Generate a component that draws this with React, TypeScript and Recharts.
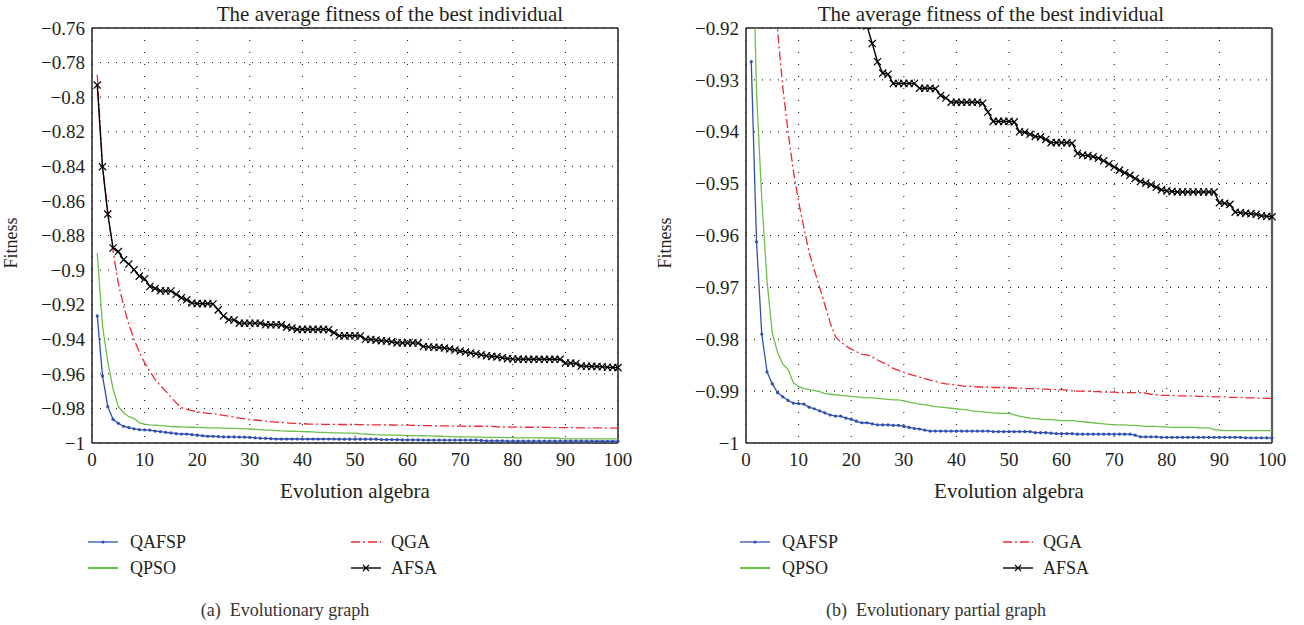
import React from 'react';
import { LineChart, Line, XAxis, YAxis, CartesianGrid, ReferenceLine } from 'recharts';

// best-individual fitness per generation (generations 1..100)
const qafsp = [
  -0.9265, -0.9612, -0.979, -0.9863, -0.9886, -0.9903, -0.9911, -0.9918, -0.9923, -0.9924,
  -0.9925, -0.9931, -0.9934, -0.9938, -0.9942, -0.9946, -0.9948, -0.9948, -0.9952, -0.9954,
  -0.9958, -0.9961, -0.9961, -0.9963, -0.9965, -0.9965, -0.9965, -0.9966, -0.9966, -0.9968,
  -0.997, -0.9972, -0.9973, -0.9975, -0.9977, -0.9977, -0.9977, -0.9977, -0.9977, -0.9977,
  -0.9977, -0.9977, -0.9977, -0.9977, -0.9977, -0.9977, -0.9978, -0.9978, -0.9978, -0.9978,
  -0.9978, -0.9978, -0.9978, -0.9978, -0.998, -0.998, -0.998, -0.9981, -0.9982, -0.9982,
  -0.9982, -0.9982, -0.9983, -0.9983, -0.9983, -0.9983, -0.9983, -0.9983, -0.9983, -0.9983,
  -0.9983, -0.9983, -0.9983, -0.9985, -0.9988, -0.9988, -0.9988, -0.9988, -0.9989, -0.9989,
  -0.9989, -0.9989, -0.9989, -0.9989, -0.9989, -0.9989, -0.9989, -0.9989, -0.9989, -0.9989,
  -0.9989, -0.9989, -0.9989, -0.9989, -0.999, -0.999, -0.999, -0.999, -0.999, -0.999,
];

const qpso = [
  -0.8903, -0.9324, -0.953, -0.9688, -0.9788, -0.9825, -0.9848, -0.9858, -0.9884, -0.9891,
  -0.9895, -0.9897, -0.9899, -0.9901, -0.9905, -0.9906, -0.9907, -0.9908, -0.9909, -0.991,
  -0.9911, -0.9912, -0.9913, -0.9913, -0.9914, -0.9915, -0.9916, -0.9917, -0.9917, -0.9919,
  -0.9921, -0.9923, -0.9925, -0.9926, -0.9928, -0.993, -0.9931, -0.9932, -0.9933, -0.9934,
  -0.9935, -0.9936, -0.9938, -0.9939, -0.994, -0.9941, -0.9942, -0.9943, -0.9943, -0.9943,
  -0.9946, -0.9948, -0.995, -0.9952, -0.9953, -0.9954, -0.9955, -0.9955, -0.9956, -0.9957,
  -0.9957, -0.9957, -0.9958, -0.9959, -0.996, -0.9961, -0.9962, -0.9963, -0.9964, -0.9965,
  -0.9965, -0.9965, -0.9966, -0.9966, -0.9967, -0.9968, -0.9968, -0.9968, -0.9969, -0.9969,
  -0.997, -0.997, -0.997, -0.997, -0.997, -0.9971, -0.9971, -0.9971, -0.9974, -0.9975,
  -0.9976, -0.9976, -0.9976, -0.9976, -0.9976, -0.9976, -0.9976, -0.9976, -0.9976, -0.9976,
];

const qga = [
  -0.787, -0.84, -0.866, -0.889, -0.9077, -0.9205, -0.9315, -0.94, -0.9475, -0.9535,
  -0.9585, -0.9632, -0.9667, -0.97, -0.9734, -0.9768, -0.9795, -0.9805, -0.9813, -0.9819,
  -0.9824, -0.9829, -0.983, -0.9834, -0.984, -0.9845, -0.985, -0.9856, -0.986, -0.9864,
  -0.9867, -0.987, -0.9873, -0.9876, -0.9879, -0.9881, -0.9884, -0.9886, -0.9887, -0.9888,
  -0.989, -0.9891, -0.9891, -0.9892, -0.9892, -0.9892, -0.9893, -0.9893, -0.9893, -0.9893,
  -0.9894, -0.9894, -0.9895, -0.9895, -0.9895, -0.9896, -0.9896, -0.9897, -0.9897, -0.9897,
  -0.9898, -0.9899, -0.99, -0.99, -0.99, -0.9901, -0.9901, -0.9902, -0.9902, -0.9902,
  -0.9903, -0.9903, -0.9903, -0.9903, -0.9903, -0.9904, -0.9906, -0.9907, -0.9908, -0.9908,
  -0.9908, -0.9909, -0.9909, -0.9909, -0.9909, -0.991, -0.991, -0.991, -0.9911, -0.9911,
  -0.9911, -0.9912, -0.9912, -0.9912, -0.9913, -0.9913, -0.9913, -0.9914, -0.9914, -0.9914,
];

const afsa = [
  -0.793, -0.8402, -0.8676, -0.8872, -0.8893, -0.894, -0.8965, -0.8998, -0.9035, -0.905,
  -0.9095, -0.9106, -0.912, -0.9121, -0.9121, -0.914, -0.916, -0.9172, -0.919, -0.9194,
  -0.9194, -0.9194, -0.9196, -0.923, -0.9265, -0.9287, -0.9289, -0.9307, -0.9307, -0.9307,
  -0.9307, -0.9307, -0.9316, -0.9316, -0.9316, -0.9317, -0.933, -0.9335, -0.9343, -0.9343,
  -0.9343, -0.9343, -0.9343, -0.9343, -0.9345, -0.9362, -0.938, -0.938, -0.938, -0.938,
  -0.9381, -0.94, -0.9401, -0.9405, -0.9409, -0.941, -0.9415, -0.9421, -0.9421, -0.9421,
  -0.9421, -0.9422, -0.9442, -0.9445, -0.9446, -0.9448, -0.9451, -0.9456, -0.9462, -0.9468,
  -0.9474, -0.9479, -0.9484, -0.949, -0.9496, -0.9499, -0.9502, -0.9507, -0.9512, -0.9514,
  -0.9515, -0.9516, -0.9516, -0.9516, -0.9516, -0.9516, -0.9516, -0.9516, -0.9516, -0.9537,
  -0.9538, -0.954, -0.9555, -0.9556, -0.9557, -0.9558, -0.9559, -0.9562, -0.9563, -0.9564,
];

const xTicks = [0, 10, 20, 30, 40, 50, 60, 70, 80, 90, 100];
const fullTicks = [-1, -0.98, -0.96, -0.94, -0.92, -0.9, -0.88, -0.86, -0.84, -0.82, -0.8, -0.78, -0.76];
const partTicks = [-1, -0.99, -0.98, -0.97, -0.96, -0.95, -0.94, -0.93, -0.92];

const rows = qafsp.map((v, i) => ({
  generation: i + 1,
  QAFSP: v,
  QPSO: qpso[i],
  QGA: qga[i],
  AFSA: afsa[i],
}));

const SERIF = 'Liberation Serif, DejaVu Serif, serif';
const INK = '#231f20';
const BLUE = '#2f4fae';
const GREEN = '#6cc04a';
const RED = '#ee2a2e';
const DASHDOT = '9 3 2 3';
const TICK = { fontSize: 19, fill: INK, fontFamily: SERIF, style: { fontFamily: SERIF } };

const fmt = (v: number) => String(v).replace('-', '\u2212');

const crossDot = (p: any) => {
  const { cx, cy, index } = p;
  if (cx == null || cy == null) return <g key={`c${index}`} />;
  const s = 3.6;
  return (
    <path
      key={`c${index}`}
      d={`M${cx - s},${cy - s}L${cx + s},${cy + s}M${cx - s},${cy + s}L${cx + s},${cy - s}`}
      stroke="#000"
      strokeWidth={1.2}
      fill="none"
    />
  );
};

const smallDot = (p: any) => {
  const { cx, cy, index } = p;
  if (cx == null || cy == null) return <g key={`d${index}`} />;
  return <circle key={`d${index}`} cx={cx} cy={cy} r={1.6} fill={BLUE} />;
};

type PanelProps = {
  left: number;
  width: number;
  axisWidth: number;
  domain: [number, number];
  ticks: number[];
  clip: boolean;
  edge: string;
};

const Panel = ({ left, width, axisWidth, domain, ticks, clip, edge }: PanelProps) => (
  <div style={{ position: 'absolute', left, top: 0 }}>
    <LineChart width={width} height={470} data={rows} margin={{ top: 28, right: 32, left: 0, bottom: 0 }}>
      <CartesianGrid vertical={false} stroke="#000" strokeDasharray="1 7" />
      <CartesianGrid horizontal={false} stroke="#000" strokeDasharray="1 11" />
      <XAxis
        type="number"
        dataKey="generation"
        domain={[0, 100]}
        ticks={xTicks}
        height={27}
        tickSize={0}
        tickMargin={10}
        axisLine={{ stroke: INK, strokeWidth: 1.5 }}
        tick={TICK}
      />
      <YAxis
        type="number"
        domain={domain}
        ticks={ticks}
        allowDataOverflow={clip}
        width={axisWidth}
        tickSize={0}
        tickMargin={7}
        tickFormatter={fmt}
        axisLine={{ stroke: INK, strokeWidth: 1.5 }}
        tick={TICK}
      />
      <ReferenceLine y={domain[1]} stroke={INK} strokeWidth={1.5} />
      <ReferenceLine x={100} stroke={edge} strokeWidth={edge === INK ? 1.5 : 2.2} />
      <Line dataKey="QGA" stroke={RED} strokeWidth={1.3} strokeDasharray={DASHDOT} dot={false} isAnimationActive={false} />
      <Line dataKey="QPSO" stroke={GREEN} strokeWidth={1.3} dot={false} isAnimationActive={false} />
      <Line dataKey="QAFSP" stroke={BLUE} strokeWidth={1.3} dot={smallDot} isAnimationActive={false} />
      <Line dataKey="AFSA" stroke="#000" strokeWidth={1.4} dot={crossDot} isAnimationActive={false} />
    </LineChart>
  </div>
);

// legend sample: a short stroke with an optional marker in the middle
const LegendKey = ({ x1, x2, y, name }: { x1: number; x2: number; y: number; name: string }) => {
  const mid = (x1 + x2) / 2;
  return (
    <g>
      {name === 'QAFSP' && (
        <>
          <line x1={x1} x2={x2} y1={y} y2={y} stroke={BLUE} strokeWidth={1.3} />
          <circle cx={mid} cy={y} r={1.6} fill={BLUE} />
        </>
      )}
      {name === 'QPSO' && <line x1={x1} x2={x2} y1={y} y2={y} stroke={GREEN} strokeWidth={2.2} />}
      {name === 'QGA' && (
        <line x1={x1} x2={x2} y1={y} y2={y} stroke={RED} strokeWidth={1.3} strokeDasharray={DASHDOT} />
      )}
      {name === 'AFSA' && (
        <>
          <line x1={x1} x2={x2} y1={y} y2={y} stroke="#000" strokeWidth={1.4} />
          <path d={`M${mid - 3},${y - 3}L${mid + 3},${y + 3}M${mid - 3},${y + 3}L${mid + 3},${y - 3}`} stroke="#000" strokeWidth={1.1} />
        </>
      )}
    </g>
  );
};

const Annotations = ({ plotLeft, plotRight, titleX, legendLeft, captionX, caption }: any) => {
  const col2 = legendLeft + 263;
  return (
    <g fill={INK} style={{ fontFamily: SERIF }}>
      <text x={titleX} y={21} fontSize={21} textAnchor="middle">
        The average fitness of the best individual
      </text>
      <text x={(plotLeft + plotRight) / 2} y={498} fontSize={21} textAnchor="middle">
        Evolution algebra
      </text>
      <text
        x={plotLeft - 75}
        y={243}
        fontSize={18}
        textAnchor="middle"
        transform={`rotate(-90 ${plotLeft - 75} 243)`}
      >
        Fitness
      </text>
      <LegendKey x1={legendLeft} x2={legendLeft + 30} y={542} name="QAFSP" />
      <LegendKey x1={legendLeft} x2={legendLeft + 30} y={568} name="QPSO" />
      <LegendKey x1={col2} x2={col2 + 30} y={542} name="QGA" />
      <LegendKey x1={col2} x2={col2 + 30} y={568} name="AFSA" />
      <text x={legendLeft + 42} y={548} fontSize={18}>QAFSP</text>
      <text x={legendLeft + 42} y={574} fontSize={18}>QPSO</text>
      <text x={col2 + 40} y={548} fontSize={18}>QGA</text>
      <text x={col2 + 40} y={574} fontSize={18}>AFSA</text>
      <text x={captionX} y={616} fontSize={18} textAnchor="middle" fill="#333">
        {caption}
      </text>
    </g>
  );
};

export default function App() {
  return (
    <div
      style={{
        position: 'fixed',
        left: 0,
        top: 0,
        width: 1304,
        height: 625,
        background: '#fff',
        overflow: 'hidden',
        fontFamily: SERIF,
      }}
    >
      <Panel left={0} width={650} axisWidth={92} domain={[-1, -0.76]} ticks={fullTicks} clip={false} edge={INK} />
      <Panel left={652} width={652} axisWidth={94} domain={[-1, -0.92]} ticks={partTicks} clip edge="#5a5a5a" />
      <svg width={1304} height={625} style={{ position: 'absolute', left: 0, top: 0, pointerEvents: 'none' }}>
        <Annotations
          plotLeft={92}
          plotRight={618}
          titleX={390}
          legendLeft={88}
          captionX={285}
          caption={'(a)\u00a0\u00a0Evolutionary graph'}
        />
        <Annotations
          plotLeft={746}
          plotRight={1272}
          titleX={991}
          legendLeft={740}
          captionX={936}
          caption={'(b)\u00a0\u00a0Evolutionary partial graph'}
        />
      </svg>
    </div>
  );
}
